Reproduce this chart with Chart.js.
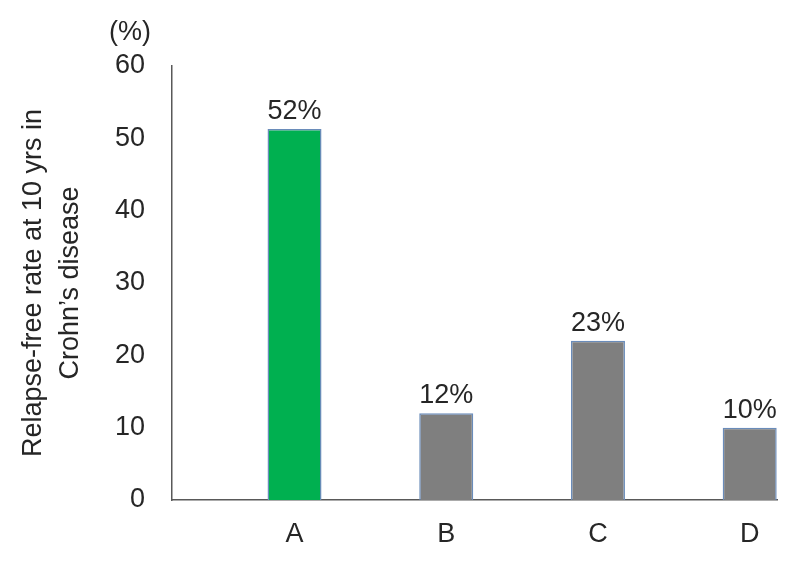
<!DOCTYPE html>
<html>
<head>
<meta charset="utf-8">
<script src="https://cdn.jsdelivr.net/npm/chart.js@4"></script>
<style>
  html, body { margin: 0; padding: 0; background: #fff; }
  #wrap { width: 796px; height: 565px; }
</style>
</head>
<body>
<div id="wrap"><canvas id="relapseChart" width="796" height="565"></canvas></div>
<script>
const categories = ["A", "B", "C", "D"];
const relapseFree = [51.3, 12, 22, 10];
const valueLabels = ["52%", "12%", "23%", "10%"];
const yTicks = [0, 10, 20, 30, 40, 50, 60];
const barColors = ["#00b050", "#7f7f7f", "#7f7f7f", "#7f7f7f"];

const FONT = "'Liberation Sans', Arial, sans-serif";
const TEXT = "#262626";
const AXIS = "#595959";

// percent labels over the bars + the "(%)" unit above the y axis
const labelPlugin = {
  id: "labels",
  afterDatasetsDraw(chart) {
    const { ctx, chartArea, scales } = chart;
    ctx.save();
    ctx.font = "27px " + FONT;
    ctx.fillStyle = TEXT;
    ctx.textAlign = "center";
    ctx.textBaseline = "alphabetic";
    chart.getDatasetMeta(0).data.forEach((bar, i) => {
      ctx.fillText(valueLabels[i], bar.x, bar.y - 10);
    });
    ctx.textBaseline = "middle";
    ctx.fillText("(%)", scales.y.right - 42, chartArea.top - 33);
    ctx.restore();
  }
};

const ctx = document.getElementById("relapseChart").getContext("2d");
new Chart(ctx, {
  type: "bar",
  data: {
    datasets: [{
      data: relapseFree.map((v, i) => ({ x: i + 1, y: v })),
      backgroundColor: barColors,
      borderColor: "#6a8cba",
      borderWidth: 1.5,
      barPercentage: 0.356,
      categoryPercentage: 1
    }]
  },
  options: {
    responsive: false,
    animation: false,
    layout: { padding: { top: 66, right: 19, bottom: 0, left: 0 } },
    plugins: {
      legend: { display: false },
      tooltip: { enabled: false }
    },
    scales: {
      x: {
        type: "linear",
        offset: false,
        min: 0.1925,
        max: 4.18,
        afterFit: s => { s.height = 65; },
        grid: { display: false, drawTicks: false, offset: false },
        border: { display: true, color: AXIS, width: 1.5 },
        afterBuildTicks: s => { s.ticks = categories.map((c, i) => ({ value: i + 1 })); },
        ticks: {
          padding: 18,
          color: TEXT,
          font: { family: FONT, size: 27 },
          callback: v => categories[v - 1]
        }
      },
      y: {
        min: 0,
        max: 60,
        afterFit: s => { s.width = 172; },
        afterBuildTicks: s => { s.ticks = yTicks.map(v => ({ value: v })); },
        grid: { display: false, drawTicks: false },
        border: { display: true, color: AXIS, width: 1.5 },
        ticks: {
          padding: 27,
          color: TEXT,
          font: { family: FONT, size: 27 }
        },
        title: {
          display: true,
          text: ["Relapse-free rate at 10 yrs in", "Crohn\u2019s disease"],
          color: TEXT,
          font: { family: FONT, size: 27, lineHeight: 1.37 },
          padding: { top: 15, bottom: 0 }
        }
      }
    }
  },
  plugins: [labelPlugin]
});
</script>
</body>
</html>
